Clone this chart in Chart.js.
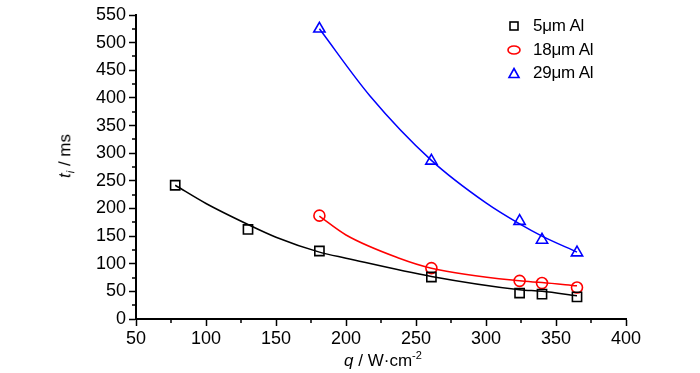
<!DOCTYPE html>
<html>
<head>
<meta charset="utf-8">
<script src="https://cdn.jsdelivr.net/npm/chart.js@4.4.1/dist/chart.umd.min.js"></script>
<style>
  html, body { margin: 0; padding: 0; background: #fff; }
  #wrap { position: relative; width: 700px; height: 373px; font-family: "Liberation Sans", Arial, sans-serif; color: #000; }
  canvas { position: absolute; left: 0; top: 0; }
  .lg { position: absolute; left: 506px; font-size: 17px; line-height: 20px; white-space: nowrap; }
  .lg svg { position: absolute; left: 0; top: 4px; }
  .lg span { position: absolute; left: 27px; top: 0; letter-spacing: -0.2px; }
  #ytitle { position: absolute; left: 66px; top: 156px; transform: translate(-50%, -50%) rotate(-90deg); font-size: 17px; white-space: nowrap; }
  #xtitle { position: absolute; left: 383px; top: 360px; transform: translate(-50%, -50%); font-size: 17px; white-space: nowrap; }
  sub, sup { font-size: 11px; }
</style>
</head>
<body>
<div id="wrap">
  <canvas id="chart-1" width="700" height="373"></canvas>
  <div id="ytitle"><i>t</i><sub><i>i</i></sub> / ms</div>
  <div id="xtitle"><i>q</i> / W·cm<sup>-2</sup></div>
  <div class="lg" style="top:16px"><svg width="16" height="12"><rect x="4" y="2" width="8" height="8" fill="none" stroke="#000" stroke-width="1.6"/></svg><span>5μm Al</span></div>
  <div class="lg" style="top:40px"><svg width="16" height="12"><ellipse cx="8" cy="6" rx="6" ry="4" fill="none" stroke="#f00" stroke-width="1.6"/></svg><span>18μm Al</span></div>
  <div class="lg" style="top:63px"><svg width="16" height="12"><polygon points="8,1.5 13,10.5 3,10.5" fill="none" stroke="#00f" stroke-width="1.6"/></svg><span>29μm Al</span></div>
</div>
<script>
// ====== data ======
const q5 = [78, 130, 181, 261, 324, 340, 365];
const t5 = [242, 162, 123, 76, 47, 45, 40];
const q18 = [181, 261, 324, 340, 365];
const t18 = [187, 92, 69, 65, 57];
const q29 = [181, 261, 324, 340, 365];
const t29 = [525, 286, 177, 143, 120];

// fitted curves
const fitQ5 = [78, 100, 130, 150, 181, 200, 261, 324, 340, 365];
const fitT5 = [242, 209, 171, 148, 121, 110, 77, 53, 50, 42];
const fitQ18 = [181, 200, 238, 261, 324, 340, 365];
const fitT18 = [186, 152, 110, 92, 69, 66, 60];
const fitQ29 = [181, 217, 261, 300, 324, 340, 365];
const fitT29 = [525, 404, 287, 210, 172, 150, 121];

const xTicks = [50, 100, 150, 200, 250, 300, 350, 400];
const yTicks = [0, 50, 100, 150, 200, 250, 300, 350, 400, 450, 500, 550];

function pts(xs, ys) {
  return xs.map((x, i) => ({ x: x, y: ys[i] }));
}

function fitLine(xs, ys, color) {
  return {
    type: 'line',
    data: pts(xs, ys),
    borderColor: color,
    borderWidth: 1.5,
    pointRadius: 0,
    cubicInterpolationMode: 'monotone',
    fill: false,
    order: 2
  };
}

function markers(xs, ys, color, style, r) {
  return {
    type: 'scatter',
    data: pts(xs, ys),
    borderColor: color,
    backgroundColor: 'rgba(0,0,0,0)',
    borderWidth: 1.6,
    pointStyle: style,
    pointRadius: r,
    pointHoverRadius: r,
    showLine: false,
    order: 1
  };
}

// minor ticks halfway between the major ones
const minorTicks = {
  id: 'minorTicks',
  afterDraw(chart) {
    const c = chart.ctx;
    const xs = chart.scales.x, ys = chart.scales.y;
    c.save();
    c.strokeStyle = '#000';
    c.lineWidth = 1.5;
    c.beginPath();
    for (let v = 75; v < 400; v += 50) {
      const px = Math.round(xs.getPixelForValue(v));
      c.moveTo(px, xs.top);
      c.lineTo(px, xs.top + 4);
    }
    for (let v = 25; v < 550; v += 50) {
      const py = Math.round(ys.getPixelForValue(v));
      c.moveTo(ys.right, py);
      c.lineTo(ys.right - 4, py);
    }
    c.stroke();
    c.restore();
  }
};

const ctx1 = document.getElementById('chart-1');

new Chart(ctx1, {
  data: {
    datasets: [
      fitLine(fitQ5, fitT5, '#000'),
      fitLine(fitQ18, fitT18, '#f00'),
      fitLine(fitQ29, fitT29, '#00f'),
      markers(q5, t5, '#000', 'rect', 6.5),
      markers(q18, t18, '#f00', 'circle', 5.5),
      markers(q29, t29, '#00f', 'triangle', 6.5)
    ]
  },
  options: {
    responsive: false,
    animation: false,
    layout: { padding: { left: 0, top: 15, right: 74, bottom: 0 } },
    plugins: {
      legend: { display: false },
      tooltip: { enabled: false }
    },
    scales: {
      x: {
        type: 'linear',
        min: 50,
        max: 400,
        afterFit: s => { s.height = 54; },
        afterBuildTicks: s => { s.ticks = xTicks.map(v => ({ value: v })); },
        border: { color: '#000', width: 2 },
        grid: { drawOnChartArea: false, tickLength: 7, tickColor: '#000', tickWidth: 1.5 },
        ticks: { color: '#000', padding: 2, font: { family: 'Liberation Sans, Arial, sans-serif', size: 18 } }
      },
      y: {
        type: 'linear',
        min: 0,
        max: 550,
        afterFit: s => { s.width = 136; },
        afterBuildTicks: s => { s.ticks = yTicks.map(v => ({ value: v })); },
        border: { color: '#000', width: 2 },
        grid: { drawOnChartArea: false, tickLength: 7, tickColor: '#000', tickWidth: 1.5 },
        ticks: { color: '#000', padding: 3, font: { family: 'Liberation Sans, Arial, sans-serif', size: 18 } }
      }
    }
  },
  plugins: [minorTicks]
});
</script>
</body>
</html>
